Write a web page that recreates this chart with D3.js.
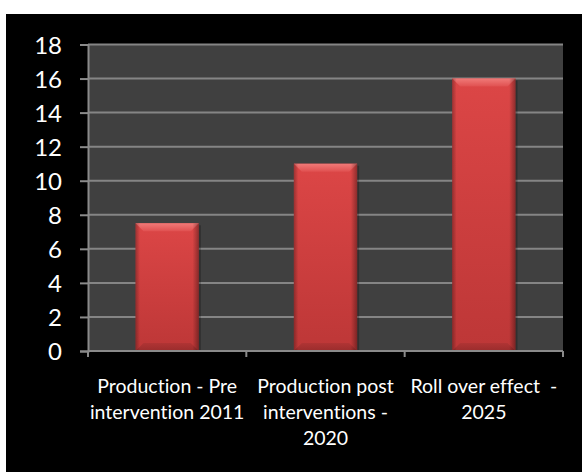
<!DOCTYPE html>
<html><head><meta charset="utf-8">
<script src="https://cdn.jsdelivr.net/npm/d3@7"></script>
<style>html,body{margin:0;padding:0;background:#fff;}svg{display:block;}text{font-variant-ligatures:none;font-feature-settings:"liga" 0;}</style>
</head><body>
<div id="chart"></div>
<script>
const categories = [
  ["Production - Pre", "intervention 2011"],
  ["Production post", "interventions -", "2020"],
  ["Roll over effect  -", "2025"]
];
const values = [7.5, 11, 16];
const yTicks = [0, 2, 4, 6, 8, 10, 12, 14, 16, 18];

const W = 582, H = 472;
const plot = {left: 88, right: 563, top: 44.5, bottom: 351};

const svg = d3.select("#chart").append("svg").attr("width", W).attr("height", H);
const defs = svg.append("defs");

// gradients
const gv = defs.append("linearGradient").attr("id", "barV").attr("x1", 0).attr("y1", 0).attr("x2", 0).attr("y2", 1);
gv.append("stop").attr("offset", "0%").attr("stop-color", "#dc4646");
gv.append("stop").attr("offset", "100%").attr("stop-color", "#bd3737");
const gh = defs.append("linearGradient").attr("id", "barH").attr("x1", 0).attr("y1", 0).attr("x2", 1).attr("y2", 0);
gh.append("stop").attr("offset", "0%").attr("stop-color", "#000").attr("stop-opacity", 0.28);
gh.append("stop").attr("offset", "7%").attr("stop-color", "#000").attr("stop-opacity", 0.0);
gh.append("stop").attr("offset", "90%").attr("stop-color", "#000").attr("stop-opacity", 0.0);
gh.append("stop").attr("offset", "100%").attr("stop-color", "#000").attr("stop-opacity", 0.35);
const gt = defs.append("linearGradient").attr("id", "bevTop").attr("x1", 0).attr("y1", 0).attr("x2", 0).attr("y2", 1);
gt.append("stop").attr("offset", "0%").attr("stop-color", "#f07a78");
gt.append("stop").attr("offset", "100%").attr("stop-color", "#e05050");
const gb = defs.append("linearGradient").attr("id", "bevBot").attr("x1", 0).attr("y1", 0).attr("x2", 0).attr("y2", 1);
gb.append("stop").attr("offset", "0%").attr("stop-color", "#b03434");
gb.append("stop").attr("offset", "100%").attr("stop-color", "#9a2c2c");

// black panel
svg.append("rect").attr("x", 6).attr("y", 14).attr("width", W - 6).attr("height", H - 14).attr("fill", "#000");

const x = d3.scaleBand().domain(d3.range(categories.length)).range([plot.left, plot.right])
  .paddingInner(0.6).paddingOuter(0.3);
const xBoundary = d3.scaleLinear().domain([0, categories.length]).range([plot.left, plot.right]);
const y = d3.scaleLinear().domain([0, 18]).range([plot.bottom, plot.top]);

// plot area
svg.append("rect").attr("x", plot.left).attr("y", plot.top)
  .attr("width", plot.right - plot.left).attr("height", plot.bottom - plot.top).attr("fill", "#404040");

// gridlines
svg.append("g").selectAll("line").data(yTicks.filter(d => d > 0)).join("line")
  .attr("x1", plot.left).attr("x2", plot.right)
  .attr("y1", d => y(d)).attr("y2", d => y(d))
  .attr("stroke", "#858585").attr("stroke-width", 2);

// y axis
const yAxis = svg.append("g").attr("transform", `translate(${plot.left},0)`)
  .call(d3.axisLeft(y).tickValues(yTicks).tickSize(8).tickPadding(18).tickFormat(d3.format("d")));
yAxis.select(".domain").attr("stroke", "#8a8a8a").attr("stroke-width", 2);
yAxis.selectAll(".tick line").attr("stroke", "#8a8a8a").attr("stroke-width", 2);
yAxis.selectAll(".tick text").attr("fill", "#fff").attr("font-family", "Lato, 'Open Sans', sans-serif")
  .attr("font-size", 24).attr("dy", "0.36em");

// bars
const bars = svg.append("g").selectAll("g").data(values).join("g")
  .attr("transform", (d, i) => `translate(${x(i)},${y(d)})`);
const bw = x.bandwidth();
const bev = 8;
bars.append("rect").attr("x", 2).attr("y", 2).attr("width", bw).attr("height", d => y(0) - y(d) - 2)
  .attr("fill", "#000").attr("opacity", 0.25);
bars.append("rect").attr("width", bw).attr("height", d => y(0) - y(d)).attr("fill", "url(#barV)");
bars.append("polygon")
  .attr("points", `0,0 ${bw},0 ${bw - bev},${bev} ${bev},${bev}`)
  .attr("fill", "url(#bevTop)");
bars.append("polygon")
  .attr("points", d => { const h = y(0) - y(d); return `0,${h} ${bw},${h} ${bw - bev},${h - bev} ${bev},${h - bev}`; })
  .attr("fill", "url(#bevBot)");
bars.append("rect").attr("width", bw).attr("height", d => y(0) - y(d)).attr("fill", "url(#barH)");

// x axis
const xAxis = svg.append("g").attr("transform", `translate(0,${plot.bottom})`);
xAxis.append("line").attr("x1", plot.left).attr("x2", plot.right).attr("stroke", "#8a8a8a").attr("stroke-width", 2);
xAxis.selectAll("line.tk").data(d3.range(categories.length + 1)).join("line").attr("class", "tk")
  .attr("x1", d => xBoundary(d)).attr("x2", d => xBoundary(d)).attr("y1", 0).attr("y2", 6)
  .attr("stroke", "#8a8a8a").attr("stroke-width", 2);

const labels = svg.append("g").selectAll("text").data(categories).join("text")
  .attr("x", (d, i) => x(i) + bw / 2).attr("y", 393)
  .attr("text-anchor", "middle").attr("fill", "#fff")
  .attr("font-family", "Lato, 'Open Sans', sans-serif").attr("font-size", 19.5);
labels.selectAll("tspan").data(d => d).join("tspan")
  .attr("x", function () { return d3.select(this.parentNode).attr("x"); })
  .attr("dy", (d, j) => j === 0 ? 0 : 26)
  .style("white-space", "pre")
  .text(d => d);
</script>
</body></html>
